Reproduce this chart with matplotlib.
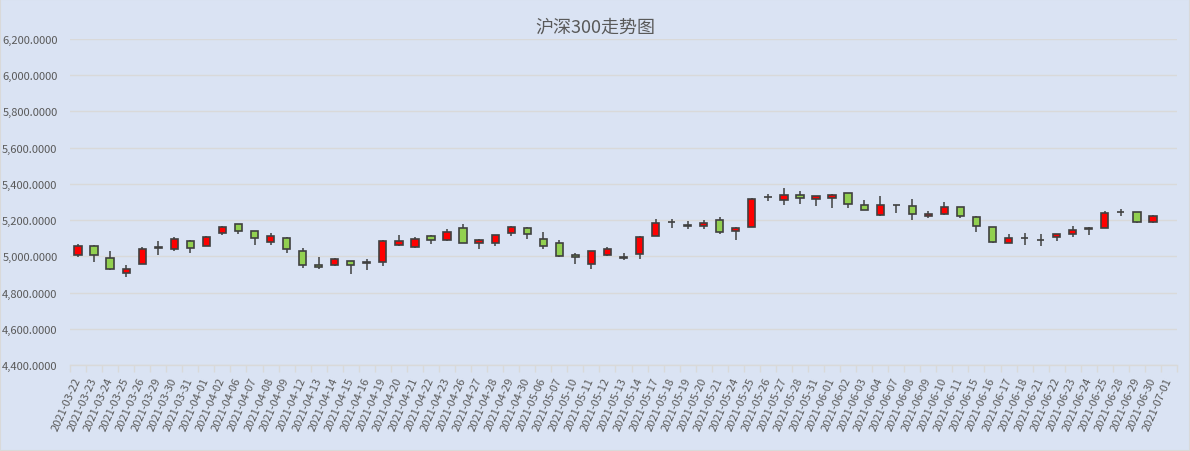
import numpy as np
import matplotlib
matplotlib.use("Agg")
import matplotlib.pyplot as plt
from matplotlib.patches import Rectangle

plt.rcParams["font.family"] = ["Noto Sans CJK SC", "DejaVu Sans"]

# CSI 300 daily candles
dates = ["2021-03-22", "2021-03-23", "2021-03-24", "2021-03-25", "2021-03-26", "2021-03-29",
         "2021-03-30", "2021-03-31", "2021-04-01", "2021-04-02", "2021-04-06", "2021-04-07",
         "2021-04-08", "2021-04-09", "2021-04-12", "2021-04-13", "2021-04-14", "2021-04-15",
         "2021-04-16", "2021-04-19", "2021-04-20", "2021-04-21", "2021-04-22", "2021-04-23",
         "2021-04-26", "2021-04-27", "2021-04-28", "2021-04-29", "2021-04-30", "2021-05-06",
         "2021-05-07", "2021-05-10", "2021-05-11", "2021-05-12", "2021-05-13", "2021-05-14",
         "2021-05-17", "2021-05-18", "2021-05-19", "2021-05-20", "2021-05-21", "2021-05-24",
         "2021-05-25", "2021-05-26", "2021-05-27", "2021-05-28", "2021-05-31", "2021-06-01",
         "2021-06-02", "2021-06-03", "2021-06-04", "2021-06-07", "2021-06-08", "2021-06-09",
         "2021-06-10", "2021-06-11", "2021-06-15", "2021-06-16", "2021-06-17", "2021-06-18",
         "2021-06-21", "2021-06-22", "2021-06-23", "2021-06-24", "2021-06-25", "2021-06-28",
         "2021-06-29", "2021-06-30", "2021-07-01"]

open_ = [5009, 5059, 4989, 4909, 4957, 5047, 5041, 5086, 5059, 5129, 5177, 5139,
         5080, 5102, 5027, 4952, 4952, 4973, 4963, 4968, 5064, 5054, 5113, 5091,
         5155, 5075, 5075, 5129, 5155, 5096, 5075, 5005, 4957, 5005, 4995, 5011,
         5114, 5188, 5171, 5169, 5202, 5142, 5163, 5326, 5311, 5339, 5317, 5322,
         5350, 5284, 5229, 5284, 5279, 5224, 5233, 5271, 5216, 5162, 5074, 5101,
         5090, 5107, 5123, 5153, 5156, 5247, 5244, 5189, np.nan]
high = [5070, 5064, 5027, 4952, 5054, 5086, 5107, 5088, 5114, 5166, 5179, 5141,
        5129, 5104, 5048, 4995, 4989, 4975, 4984, 5088, 5118, 5107, 5118, 5150,
        5177, 5096, 5120, 5166, 5161, 5134, 5091, 5021, 5032, 5054, 5021, 5113,
        5207, 5205, 5196, 5202, 5218, 5160, 5322, 5344, 5377, 5361, 5335, 5344,
        5352, 5311, 5333, 5286, 5317, 5251, 5299, 5273, 5222, 5164, 5123, 5129,
        5123, 5125, 5167, 5162, 5249, 5260, 5246, 5227, np.nan]
low = [4998, 4968, 4925, 4887, 4955, 5009, 5032, 5016, 5057, 5118, 5123, 5064,
       5064, 5021, 4936, 4930, 4946, 4904, 4925, 4946, 5059, 5048, 5070, 5086,
       5073, 5043, 5059, 5113, 5096, 5038, 4995, 4957, 4930, 5000, 4979, 4984,
       5112, 5158, 5151, 5153, 5125, 5092, 5162, 5306, 5284, 5289, 5279, 5268,
       5268, 5255, 5224, 5240, 5202, 5213, 5227, 5211, 5134, 5074, 5072, 5063,
       5058, 5085, 5107, 5118, 5154, 5222, 5184, 5184, np.nan]
close = [5059, 5009, 4930, 4932, 5038, 5049, 5096, 5048, 5107, 5161, 5139, 5102,
         5113, 5038, 4952, 4941, 4984, 4952, 4966, 5086, 5086, 5096, 5091, 5134,
         5075, 5091, 5118, 5161, 5123, 5059, 5000, 4995, 5027, 5043, 4993, 5107,
         5185, 5192, 5169, 5185, 5136, 5158, 5317, 5328, 5339, 5322, 5333, 5339,
         5289, 5257, 5284, 5281, 5235, 5235, 5271, 5222, 5167, 5079, 5101, 5099,
         5088, 5123, 5145, 5155, 5238, 5245, 5189, 5222, np.nan]

yticks = np.arange(4400, 6201, 200)

bg = "#dae3f3"
up_color = "#ff0000"
down_color = "#92d050"
edge = "#404040"
text_color = "#595959"

fig = plt.figure(figsize=(11.9, 4.52), dpi=100, facecolor=bg)
ax = fig.add_axes([70 / 1190, 1 - 366 / 452, 1107 / 1190, 326 / 452], facecolor=bg)

x = np.arange(len(dates))
o = np.array(open_, dtype=float)
h = np.array(high, dtype=float)
l = np.array(low, dtype=float)
c = np.array(close, dtype=float)

# wicks first, bodies on top
ax.vlines(x, l, h, color=edge, linewidth=1.1, zorder=2)
colors = [up_color if cc >= oo else down_color for oo, cc in zip(o, c)]
ax.bar(x, np.abs(c - o), bottom=np.minimum(o, c), width=0.45, color=colors,
       edgecolor=edge, linewidth=1.2, zorder=3)

ax.set_xlim(-0.5, len(dates) - 0.5)
ax.set_ylim(4400, 6200)
ax.set_yticks(yticks)
ax.set_yticklabels([f"{v:,.4f}" for v in yticks])
ax.yaxis.grid(True, color="#d9d9d9", linewidth=1)
ax.set_axisbelow(True)

ax.set_xticks(x)
ax.set_xticklabels(dates, rotation=66, ha="right", va="center", rotation_mode="anchor")
ax.set_xticks(np.arange(-0.5, len(dates), 1), minor=True)

ax.tick_params(axis="y", length=0, pad=9, labelsize=8, labelcolor=text_color)
ax.tick_params(axis="x", which="major", length=0, pad=9, labelsize=8, labelcolor=text_color)
ax.tick_params(axis="x", which="minor", length=5, width=1, color="#d9d9d9")

for side in ["left", "right", "top"]:
    ax.spines[side].set_visible(False)
ax.spines["bottom"].set_color("#d9d9d9")
ax.spines["bottom"].set_linewidth(1)

fig.text(0.5, 1 - 28 / 452, "沪深300走势图", ha="center", va="center",
         fontsize=13, color=text_color)

fig.patches.append(Rectangle((0, 0), 1, 1, transform=fig.transFigure, fill=False,
                             edgecolor="#d9d9d9", linewidth=1.5))

plt.savefig("out.png", dpi=100, facecolor=bg)
